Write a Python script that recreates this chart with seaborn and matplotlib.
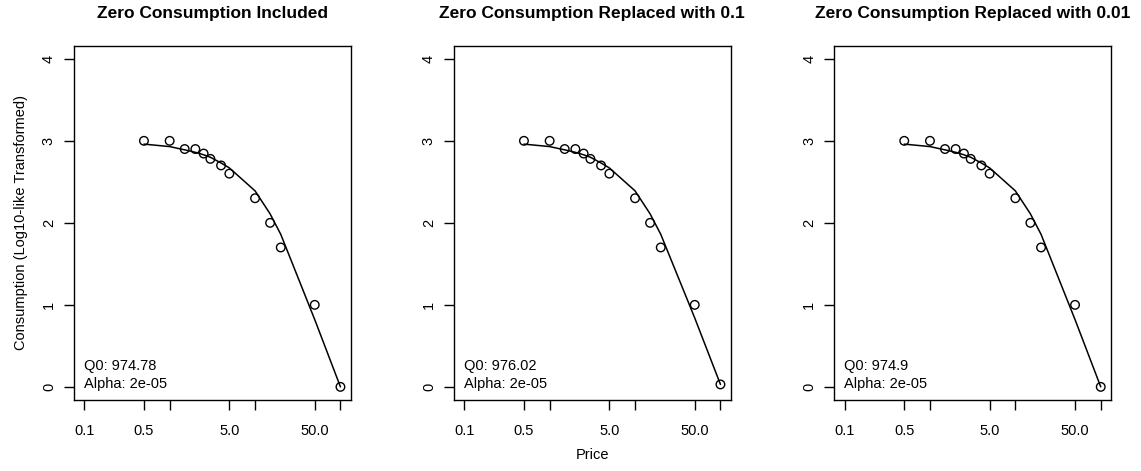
import numpy as np
import pandas as pd
import matplotlib
matplotlib.use("Agg")
import matplotlib.pyplot as plt
import seaborn as sns

# observed prices and log10-like consumption
price = [0.5, 1, 1.5, 2, 2.5, 3, 4, 5, 10, 15, 20, 50, 100]
obs_zero = [3.0, 3.0, 2.90, 2.90, 2.845, 2.78, 2.70, 2.60, 2.30, 2.0, 1.70, 1.0, 0.0]
obs_01 = [3.0, 3.0, 2.90, 2.90, 2.845, 2.78, 2.70, 2.60, 2.30, 2.0, 1.70, 1.0, 0.03]
obs_001 = [3.0, 3.0, 2.90, 2.90, 2.845, 2.78, 2.70, 2.60, 2.30, 2.0, 1.70, 1.0, 0.0]

# fitted curves
fit_zero = [2.96, 2.93, 2.89, 2.86, 2.83, 2.80, 2.73, 2.67, 2.39, 2.11, 1.86, 0.82, 0.0]
fit_01 = [2.96, 2.93, 2.89, 2.86, 2.83, 2.80, 2.73, 2.67, 2.39, 2.11, 1.86, 0.84, 0.03]
fit_001 = [2.96, 2.93, 2.89, 2.86, 2.83, 2.80, 2.73, 2.67, 2.39, 2.11, 1.86, 0.82, 0.0]

titles = ["Zero Consumption Included",
          "Zero Consumption Replaced with 0.1",
          "Zero Consumption Replaced with 0.01"]
q0_labels = ["Q0: 974.78", "Q0: 976.02", "Q0: 974.9"]
alpha_labels = ["Alpha: 2e-05", "Alpha: 2e-05", "Alpha: 2e-05"]

xticks = [0.1, 0.5, 1, 5, 10, 50, 100]
xticklabels = ["0.1", "0.5", "", "5.0", "", "50.0", ""]
yticks = [0, 1, 2, 3, 4]

sns.set_theme(style="white")
plt.rcParams["font.family"] = ["Liberation Sans", "DejaVu Sans"]
plt.rcParams["text.color"] = "black"
plt.rcParams["axes.labelcolor"] = "black"
plt.rcParams["xtick.color"] = "black"
plt.rcParams["ytick.color"] = "black"

fig = plt.figure(figsize=(11.41, 4.71), dpi=100)
lefts = [74 / 1141, 454 / 1141, 834.3 / 1141]
w, b, h = 276.7 / 1141, 71 / 471, 354.3 / 471

obs_sets = [obs_zero, obs_01, obs_001]
fit_sets = [fit_zero, fit_01, fit_001]

for i in range(3):
    ax = fig.add_axes([lefts[i], b, w, h])
    df = pd.DataFrame({"price": price, "obs": obs_sets[i], "fit": fit_sets[i]})
    sns.lineplot(data=df, x="price", y="fit", color="black", lw=1.1, ax=ax)
    sns.scatterplot(data=df, x="price", y="obs", ax=ax, s=38, marker="o",
                    facecolors="none", edgecolor="black", linewidth=1.0, zorder=3)
    ax.set_xscale("log")
    pad = 10 ** 0.12
    ax.set_xlim(0.1 / pad, 100 * pad)
    ax.set_ylim(-0.16, 4.16)
    ax.set_xticks(xticks)
    ax.set_xticklabels(xticklabels)
    ax.xaxis.set_minor_locator(matplotlib.ticker.NullLocator())
    ax.set_yticks(yticks)
    ax.set_yticklabels([str(t) for t in yticks], rotation=90, va="center")
    ax.tick_params(axis="both", which="major", bottom=True, left=True,
                   direction="out", length=7, width=1,
                   labelsize=10.5, color="black", labelcolor="black", pad=6)
    ax.tick_params(axis="x", pad=10)
    for s in ax.spines.values():
        s.set_color("black")
        s.set_linewidth(1.0)
    ax.set_xlabel("")
    ax.set_ylabel("")
    ax.set_title(titles[i], fontsize=12.5, fontweight="bold", pad=20, color="black")
    ax.text(0.035, 0.085, q0_labels[i], transform=ax.transAxes, fontsize=10.5)
    ax.text(0.035, 0.035, alpha_labels[i], transform=ax.transAxes, fontsize=10.5)
    if i == 0:
        ax.set_ylabel("Consumption (Log10-like Transformed)", fontsize=10.5, labelpad=10)

fig.text(0.519, 0.025, "Price", ha="center", fontsize=10.5)

fig.savefig("out.png", dpi=100)
